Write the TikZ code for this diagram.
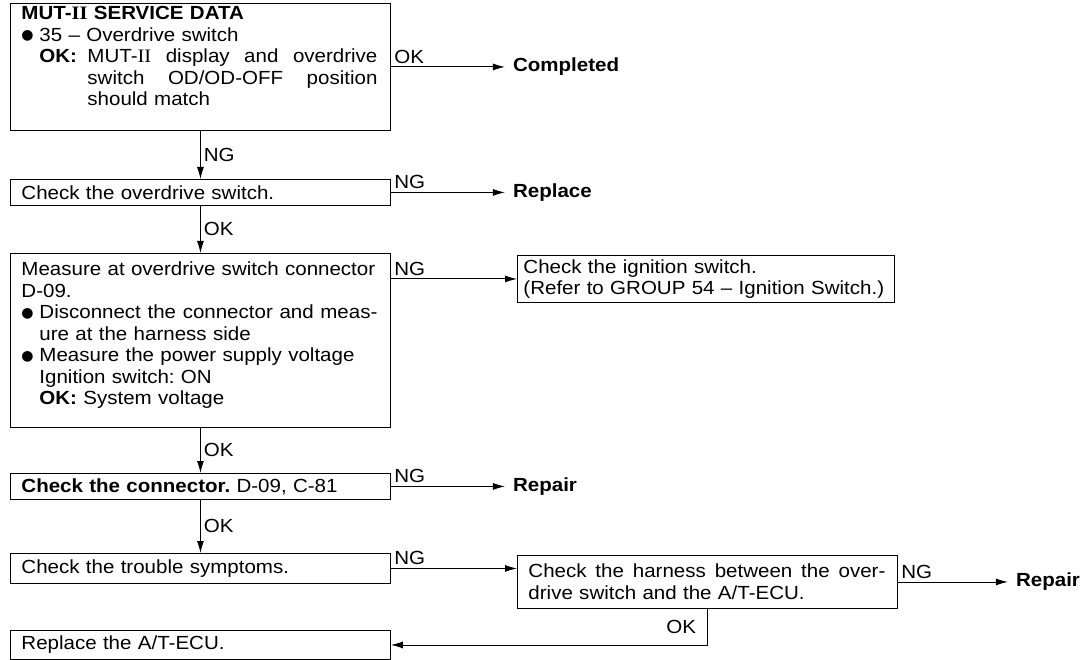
\documentclass[tikz,border=0pt]{standalone}
\usepackage{fontspec}
\setmainfont{Liberation Sans}[FakeStretch=1.08]
\newfontfamily\romfont{Liberation Serif}[FakeStretch=1.08]
\newfontfamily\symfont{DejaVu Sans}
\usetikzlibrary{positioning,arrows.meta}
\hyphenpenalty=10000
\frenchspacing
\newcommand{\two}{{\romfont II}}
\newcommand{\bul}{\makebox[18pt][l]{\raisebox{1.2pt}{\symfont\fontsize{14}{21.5}\selectfont ●}}}
\newcommand{\ind}{\hspace*{18pt}}
% justified single line (spaces stretch to the given width)
\newcommand{\jline}[2]{\makebox[#1][s]{\spaceskip=0pt\xspaceskip=0pt #2}}

\begin{document}
\begin{tikzpicture}[x=1pt, y=-1pt,
    box/.style={draw, line width=0.9pt, anchor=north west, align=left,
                inner xsep=11pt, inner ysep=2pt, text width=358pt,
                minimum height=26pt, font=\fontsize{19}{21.5}\selectfont},
    term/.style={inner xsep=8pt, inner ysep=0pt,
                 font=\fontsize{19}{21.5}\selectfont\bfseries},
    arr/.style={-{Latex[length=12pt,width=7pt]}, line width=0.9pt},
    lbl/.style={font=\fontsize{19}{21.5}\selectfont, inner sep=3pt}
  ]
  \useasboundingbox (0,0) rectangle (1087,660);

  % ================= LEFT COLUMN =================
  \node[box, minimum height=127pt] (mut) at (10,3) {%
    \textbf{MUT-\two\ SERVICE DATA}\\
    \bul 35 -- Overdrive switch\\
    \ind\makebox[48pt][l]{\textbf{OK:}}\jline{290pt}{MUT-\two\ display and overdrive}\\
    \ind\hspace*{48pt}\jline{290pt}{switch OD/OD-OFF position}\\
    \ind\hspace*{48pt}should match\rule[-22pt]{0pt}{1pt}%
  };
  \node[box] (odsw) at (10,179) {Check the overdrive switch.};
  \node[box, minimum height=174pt] (meas) at (10,253) {%
    Measure at overdrive switch connector\\
    D-09.\\
    \bul\jline{338pt}{Disconnect the connector and meas-}\\
    \ind ure at the harness side\\
    \bul Measure the power supply voltage\\
    \ind Ignition switch: ON\\
    \ind\textbf{OK:} System voltage\rule[-14pt]{0pt}{1pt}%
  };
  \node[box] (conn) at (10,473) {\textbf{Check the connector.} D-09, C-81};
  \node[box, minimum height=30pt] (symp) at (10,553) {Check the trouble symptoms.};
  \node[box, minimum height=29pt] (ecu) at (10,630) {Replace the A/T-ECU.};

  % ================= RIGHT COLUMN =================
  \node[box, text width=365pt, inner xsep=6pt, minimum height=47pt] (ign) at (517,255)
    {Check the ignition switch.\\(Refer to GROUP 54 -- Ignition Switch.)};
  \node[box, minimum height=53pt] (harn) at (517,555)
    {\jline{357pt}{Check the harness between the over-}\\drive switch and the A/T-ECU.};

  % results
  \node[term, right=114pt of mut]  (done) {Completed};
  \node[term, right=114pt of odsw] (repl) {Replace};
  \node[term, right=114pt of conn] (rep1) {Repair};
  \node[term, right=110pt of harn] (rep2) {Repair};

  % ================= CONNECTORS =================
  \draw[arr] (mut) -- node[lbl, pos=0, above right] {OK} (done);
  \draw[arr] (mut) -- node[lbl, right] {NG} (odsw);
  \draw[arr] (odsw) -- node[lbl, pos=0, above right] {NG} (repl);
  \draw[arr] (odsw) -- node[lbl, right] {OK} (meas);
  \draw[arr] (ign.west -| meas.east) -- node[lbl, pos=0, above right] {NG} (ign.west);
  \draw[arr] (meas) -- node[lbl, right] {OK} (conn);
  \draw[arr] (conn) -- node[lbl, pos=0, above right] {NG} (rep1);
  \draw[arr] (conn) -- node[lbl, right] {OK} (symp);
  \draw[arr] (symp.east) -- node[lbl, pos=0, above right] {NG} (symp.east -| harn.west);
  \draw[arr] (harn) -- node[lbl, pos=0, above right] {NG} (rep2);
  \draw[arr] (harn.south) |- node[lbl, pos=0.25, left=8pt] {OK} (ecu.east);

\end{tikzpicture}
\end{document}
